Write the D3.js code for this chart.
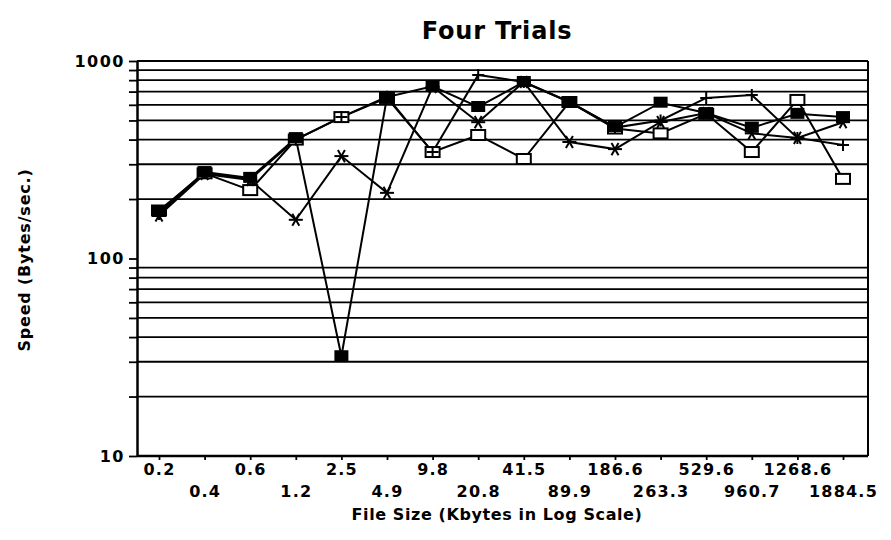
<!DOCTYPE html>
<html>
<head>
<meta charset="utf-8">
<script src="https://cdn.jsdelivr.net/npm/d3@7"></script>
<style>
  body { margin: 0; background: #fff; }
  text { font-family: "DejaVu Sans", "Liberation Sans", Arial, sans-serif; }
</style>
</head>
<body>
<script>
// file sizes (Kbytes) shown as categories
var categories = ["0.2","0.4","0.6","1.2","2.5","4.9","9.8","20.8","41.5","89.9","186.6","263.3","529.6","960.7","1268.6","1884.5"];

// speed (bytes/sec) for each trial
var trialFilled = [172, 274, 256, 407, 32, 657, 745, 585, 783, 620, 463, 615, 545, 460, 540, 520];
var trialOpen   = [175, 270, 222, 400, 520, 650, 346, 422, 319, 620, 455, 430, 540, 346, 635, 253];
var trialStar   = [165, 268, 250, 157, 330, 215, 740, 490, 783, 389, 358, 491, 545, 430, 408, 490];
var trialPlus   = [168, 272, 252, 400, 520, 660, 346, 850, 783, 620, 460, 500, 650, 673, 408, 376];

var yLabels = [10, 100, 1000];

var W = 891, H = 540;
var mLeft = 137, mRight = 868, mTop = 61, mBottom = 456;

var svg = d3.select("body").append("svg")
    .attr("width", W)
    .attr("height", H);

var x = d3.scalePoint()
    .domain(categories)
    .range([159, 843]);

var y = d3.scaleLog()
    .domain([10, 1000])
    .range([mBottom, mTop]);

// minor values for grid and ticks
var minor = [];
[10, 100].forEach(function(d) {
    for (var k = 1; k <= 9; k++) minor.push(d * k);
});
minor.push(1000);

// horizontal grid
svg.append("g")
    .selectAll("line")
    .data(minor.filter(function(v){ return yLabels.indexOf(v) < 0; }))
    .enter().append("line")
    .attr("x1", mLeft).attr("x2", mRight)
    .attr("y1", function(d){ return y(d); })
    .attr("y2", function(d){ return y(d); })
    .attr("stroke", "#000")
    .attr("stroke-width", 1.8);

// frame top / right
svg.append("line").attr("x1", mLeft).attr("x2", mRight).attr("y1", mTop).attr("y2", mTop)
    .attr("stroke", "#000").attr("stroke-width", 2.2);
svg.append("line").attr("x1", mRight).attr("x2", mRight).attr("y1", mTop).attr("y2", mBottom)
    .attr("stroke", "#000").attr("stroke-width", 2);

// y axis
var yAxis = d3.axisLeft(y)
    .tickValues(minor)
    .tickSize(8)
    .tickSizeOuter(0)
    .tickFormat(function(d){ return yLabels.indexOf(d) >= 0 ? d : ""; });

var gy = svg.append("g")
    .attr("transform", "translate(" + mLeft + ",0)")
    .call(yAxis);
gy.select(".domain").attr("stroke-width", 2.5);
gy.selectAll(".tick line").attr("stroke-width", 1.8);
gy.selectAll(".tick text")
    .attr("font-size", 16)
    .attr("font-weight", "bold")
    .attr("letter-spacing", 1.5)
    .attr("x", -12)
    .attr("fill", "#000");

// x axis
var xAxis = d3.axisBottom(x)
    .tickSize(4)
    .tickSizeOuter(0);

var gx = svg.append("g")
    .attr("transform", "translate(0," + mBottom + ")")
    .call(xAxis);
gx.select(".domain").attr("d", "M" + mLeft + ",0H" + mRight).attr("stroke-width", 2.5);
gx.selectAll(".tick line").attr("stroke-width", 1.8);
gx.selectAll(".tick text")
    .attr("font-size", 16)
    .attr("font-weight", "bold")
    .attr("letter-spacing", 1.2)
    .attr("fill", "#000")
    .attr("y", function(d, i){ return i % 2 === 0 ? 8 : 30; });

// lines
var line = d3.line()
    .x(function(d, i){ return x(categories[i]); })
    .y(function(d){ return y(d); });

var series = [
    { name: "filled", values: trialFilled },
    { name: "open",   values: trialOpen },
    { name: "star",   values: trialStar },
    { name: "plus",   values: trialPlus }
];

svg.append("g").selectAll("path")
    .data(series)
    .enter().append("path")
    .attr("d", function(s){ return line(s.values); })
    .attr("fill", "none")
    .attr("stroke", "#000")
    .attr("stroke-width", 2);

// markers
function pts(vals) {
    return vals.map(function(v, i){ return { cx: x(categories[i]), cy: y(v) }; });
}

svg.append("g").selectAll("rect")
    .data(pts(trialOpen))
    .enter().append("rect")
    .attr("x", function(d){ return d.cx - 7; })
    .attr("y", function(d){ return d.cy - 5; })
    .attr("width", 14).attr("height", 10)
    .attr("fill", "#fff")
    .attr("stroke", "#000")
    .attr("stroke-width", 2);

svg.append("g").selectAll("rect")
    .data(pts(trialFilled))
    .enter().append("rect")
    .attr("x", function(d){ return d.cx - 7; })
    .attr("y", function(d){ return d.cy - 6; })
    .attr("width", 14).attr("height", 11)
    .attr("fill", "#000");

svg.append("g").selectAll("g")
    .data(pts(trialStar))
    .enter().append("g")
    .attr("transform", function(d){ return "translate(" + d.cx + "," + d.cy + ")"; })
    .each(function() {
        var g = d3.select(this);
        [0, 60, 120].forEach(function(a) {
            g.append("line")
                .attr("x1", -7).attr("x2", 7).attr("y1", 0).attr("y2", 0)
                .attr("transform", "rotate(" + a + ")")
                .attr("stroke", "#000").attr("stroke-width", 2);
        });
    });

svg.append("g").selectAll("path")
    .data(pts(trialPlus))
    .enter().append("path")
    .attr("d", function(d){
        return "M" + (d.cx - 6) + "," + d.cy + "H" + (d.cx + 6) +
               "M" + d.cx + "," + (d.cy - 6) + "V" + (d.cy + 6);
    })
    .attr("stroke", "#000")
    .attr("stroke-width", 2);

// titles
svg.append("text")
    .attr("x", 497).attr("y", 39)
    .attr("text-anchor", "middle")
    .attr("font-size", 24)
    .attr("font-weight", "bold")
    .attr("letter-spacing", 0.8)
    .text("Four Trials");

svg.append("text")
    .attr("x", 497).attr("y", 520)
    .attr("text-anchor", "middle")
    .attr("font-size", 16)
    .attr("font-weight", "bold")
    .attr("letter-spacing", 0.6)
    .text("File Size (Kbytes in Log Scale)");

svg.append("text")
    .attr("transform", "translate(30,260) rotate(-90)")
    .attr("text-anchor", "middle")
    .attr("font-size", 16)
    .attr("font-weight", "bold")
    .attr("letter-spacing", 0.8)
    .text("Speed (Bytes/sec.)");
</script>
</body>
</html>
